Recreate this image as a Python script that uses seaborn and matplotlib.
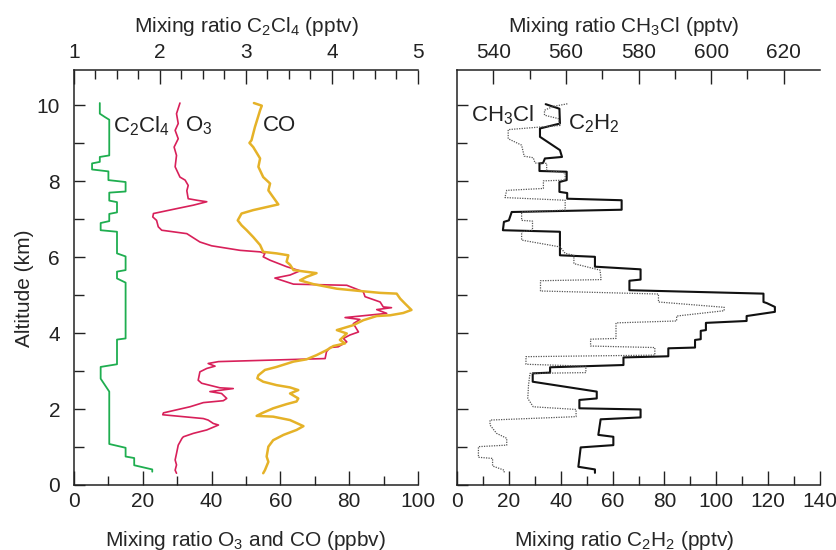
import matplotlib
matplotlib.use("Agg")
import matplotlib.pyplot as plt
import seaborn as sns
import pandas as pd
from matplotlib.ticker import MultipleLocator

# ---------------- data ----------------
# Left panel: C2Cl4 (pptv, top axis)
c2cl4_val = [1.30, 1.30, 1.36, 1.41, 1.41, 1.30, 1.30, 1.21, 1.21, 1.40, 1.40, 1.60, 1.60, 1.41,
             1.41, 1.50, 1.50, 1.41, 1.41, 1.31, 1.31, 1.50, 1.50, 1.60, 1.60, 1.50, 1.50, 1.60,
             1.60, 1.50, 1.50, 1.31, 1.31, 1.41, 1.41, 1.60, 1.60, 1.70, 1.70, 1.91, 1.91]
c2cl4_alt = [10.06, 9.78, 9.69, 9.62, 8.68, 8.64, 8.51, 8.47, 8.31, 8.26, 8.03, 7.98, 7.73, 7.70,
             7.49, 7.45, 7.18, 7.14, 6.95, 6.90, 6.71, 6.67, 6.10, 6.02, 5.66, 5.62, 5.44, 5.33,
             3.86, 3.83, 3.18, 3.11, 2.80, 2.46, 1.08, 0.98, 0.75, 0.71, 0.52, 0.41, 0.35]

# O3 (ppbv, bottom axis)
o3_val = [30.8, 29.8, 30.3, 29.4, 30.3, 29.1, 29.8, 29.4, 30.8, 32.3, 33.2, 32.8, 33.2, 35.7,
          38.6, 34.7, 29.9, 23.1, 22.9, 24.0, 24.5, 25.5, 32.8, 36.6, 40.0, 48.3, 54.1, 55.5,
          55.0, 57.0, 61.8, 65.7, 62.8, 58.4, 63.8, 79.3, 84.1, 84.6, 89.0, 89.9, 92.3, 88.0,
          90.9, 78.8, 83.1, 81.2, 82.7, 80.2, 78.3, 79.3, 76.8, 74.4, 73.4, 73.0, 42.0, 39.0,
          41.0, 38.6, 36.6, 36.1, 37.1, 42.4, 46.3, 39.5, 42.9, 44.4, 43.4, 37.6, 33.7, 30.8,
          26.0, 25.8, 37.6, 39.0, 40.5, 42.0, 38.6, 34.7, 31.8, 31.4, 30.3, 29.8, 29.4, 29.8,
          29.4, 29.8]
o3_alt = [10.06, 9.78, 9.52, 9.34, 9.12, 8.90, 8.68, 8.38, 8.11, 8.03, 7.89, 7.75, 7.54, 7.50,
          7.46, 7.37, 7.28, 7.15, 7.06, 6.97, 6.80, 6.71, 6.62, 6.40, 6.30, 6.18, 6.14, 6.10,
          6.01, 5.92, 5.75, 5.64, 5.53, 5.45, 5.29, 5.26, 5.09, 4.96, 4.82, 4.69, 4.67, 4.62,
          4.52, 4.41, 4.36, 4.25, 4.03, 3.95, 3.86, 3.77, 3.64, 3.62, 3.51, 3.33, 3.25, 3.20,
          3.13, 3.07, 2.98, 2.76, 2.68, 2.56, 2.54, 2.46, 2.41, 2.28, 2.22, 2.17, 2.06, 2.00,
          1.90, 1.85, 1.75, 1.71, 1.62, 1.58, 1.45, 1.36, 1.27, 1.23, 1.05, 0.83, 0.66, 0.53,
          0.39, 0.31]

# CO (ppbv, bottom axis)
co_val = [52.3, 54.6, 54.1, 52.6, 51.6, 51.0, 52.1, 54.1, 53.6, 55.0, 57.0, 56.5, 57.5, 59.4,
          56.0, 52.1, 48.7, 47.6, 48.7, 50.2, 52.1, 54.1, 55.0, 58.9, 62.3, 61.8, 62.8, 63.8,
          70.5, 67.6, 65.7, 69.6, 76.4, 83.1, 89.0, 93.8, 94.8, 96.2, 98.1, 95.7, 91.9, 88.0,
          84.1, 81.2, 76.4, 79.3, 77.3, 78.8, 75.4, 73.4, 70.5, 67.6, 63.8, 58.9, 55.5, 53.6,
          53.3, 55.0, 58.9, 62.8, 65.2, 62.8, 65.2, 64.7, 61.8, 57.9, 54.6, 53.1, 57.9, 62.8,
          66.7, 64.7, 60.9, 57.9, 56.5, 56.0, 56.5, 55.5, 55.0]
co_alt = [10.06, 9.99, 9.87, 9.43, 9.08, 9.01, 8.90, 8.60, 8.38, 8.11, 7.94, 7.76, 7.63, 7.39,
          7.32, 7.24, 7.15, 6.97, 6.84, 6.71, 6.53, 6.32, 6.14, 6.10, 6.05, 5.88, 5.80, 5.66,
          5.58, 5.48, 5.39, 5.29, 5.17, 5.11, 5.06, 5.04, 4.91, 4.78, 4.61, 4.53, 4.47, 4.45,
          4.34, 4.21, 4.08, 3.99, 3.82, 3.73, 3.66, 3.55, 3.42, 3.31, 3.25, 3.11, 3.03, 2.89,
          2.81, 2.72, 2.63, 2.57, 2.50, 2.41, 2.28, 2.20, 2.13, 2.02, 1.89, 1.82, 1.80, 1.71,
          1.55, 1.45, 1.32, 1.18, 1.01, 0.75, 0.61, 0.39, 0.31]

# Right panel: C2H2 (pptv, bottom axis, solid)
c2h2_val = [34.2, 39.5, 39.7, 32.0, 32.0, 39.7, 40.5, 33.9, 33.2, 31.8, 31.8, 42.3, 42.3, 39.5,
            39.5, 42.5, 42.5, 63.5, 63.5, 21.1, 20.0, 18.1, 17.7, 39.7, 39.7, 53.2, 53.2, 70.8,
            70.8, 66.5, 66.5, 118.2, 118.2, 119.5, 122.6, 122.6, 111.7, 111.7, 96.0, 96.0, 94.0,
            94.0, 91.8, 91.8, 81.5, 81.5, 64.2, 64.2, 35.9, 35.9, 29.2, 29.2, 53.9, 53.9, 47.2,
            47.2, 70.8, 70.8, 55.4, 54.5, 60.3, 60.3, 47.7, 46.8, 53.2, 53.2]
c2h2_alt = [10.03, 9.91, 9.52, 9.39, 9.17, 8.82, 8.64, 8.60, 8.48, 8.47, 8.27, 8.25, 8.03, 7.98,
            7.72, 7.69, 7.54, 7.50, 7.25, 7.19, 6.97, 6.93, 6.71, 6.67, 6.05, 6.01, 5.75, 5.68,
            5.41, 5.38, 5.13, 5.04, 4.82, 4.79, 4.69, 4.56, 4.45, 4.32, 4.27, 4.08, 4.06, 3.84,
            3.82, 3.62, 3.60, 3.39, 3.36, 3.16, 3.10, 2.96, 2.94, 2.72, 2.46, 2.28, 2.24, 2.02,
            1.99, 1.78, 1.73, 1.32, 1.27, 1.05, 0.99, 0.48, 0.41, 0.32]

# CH3Cl (pptv, top axis, dotted)
ch3cl_val = [560.4, 556.5, 554.1, 554.1, 557.9, 558.4, 544.1, 544.1, 547.8, 548.5, 551.0, 551.5,
             554.7, 554.7, 559.8, 559.8, 553.8, 553.8, 543.7, 543.2, 559.8, 559.8, 547.8, 547.8,
             550.8, 550.8, 547.8, 547.8, 558.4, 559.8, 562.2, 562.2, 569.4, 569.7, 553.0, 553.0,
             585.5, 585.5, 603.6, 603.6, 590.5, 590.5, 573.8, 573.8, 566.8, 566.8, 584.5, 584.5,
             549.0, 549.0, 565.5, 565.5, 550.1, 549.7, 549.5, 551.0, 562.8, 562.8, 539.1, 539.1,
             540.9, 543.7, 543.7, 535.9, 535.9, 539.8, 539.8, 543.0, 543.0]
ch3cl_alt = [10.04, 9.97, 9.87, 9.74, 9.65, 9.47, 9.36, 9.12, 8.95, 8.66, 8.62, 8.48,
             8.47, 8.29, 8.22, 8.03, 8.01, 7.81, 7.76, 7.57, 7.50, 7.24, 7.19, 6.97,
             6.95, 6.71, 6.67, 6.45, 6.27, 6.10, 6.05, 5.83, 5.66, 5.41, 5.38, 5.11,
             5.03, 4.82, 4.68, 4.59, 4.45, 4.32, 4.27, 3.86, 3.84, 3.66, 3.62, 3.42,
             3.38, 3.18, 3.13, 2.96, 2.94, 2.63, 2.28, 2.06, 1.99, 1.80, 1.71, 1.58,
             1.36, 1.23, 1.05, 1.01, 0.73, 0.70, 0.50, 0.39, 0.31]

# labels
left_bottom_label = "Mixing ratio O$_3$ and CO (ppbv)"
left_top_label = "Mixing ratio C$_2$Cl$_4$ (pptv)"
right_bottom_label = "Mixing ratio C$_2$H$_2$ (pptv)"
right_top_label = "Mixing ratio CH$_3$Cl (pptv)"
y_label = "Altitude (km)"

# ---------------- style ----------------
sns.set_theme(style="ticks")
plt.rcParams['font.family'] = ['Liberation Sans', 'DejaVu Sans']
plt.rcParams['mathtext.default'] = 'regular'
plt.rcParams['axes.linewidth'] = 1.1
plt.rcParams['axes.edgecolor'] = '#222222'

GREEN = '#1fae50'
RED = '#d8205a'
YELLOW = '#e5b228'
FS = 15

fig = plt.figure(figsize=(8.36, 5.5), dpi=100)
W, H = 836, 550
ax1 = fig.add_axes([74 / W, 1 - 485 / H, 344 / W, 415 / H])
ax2 = fig.add_axes([457 / W, 1 - 485 / H, 363 / W, 415 / H])
ax1t = ax1.twiny()
ax2t = ax2.twiny()

YMAX = 10.93

def line(ax, xs, ys, **kw):
    df = pd.DataFrame({"x": xs, "y": ys})
    sns.lineplot(data=df, x="x", y="y", sort=False, estimator=None, ax=ax, **kw)

line(ax1, o3_val, o3_alt, color=RED, lw=1.2)
line(ax1, co_val, co_alt, color=YELLOW, lw=1.8)
line(ax1t, c2cl4_val, c2cl4_alt, color=GREEN, lw=1.3)
line(ax2, c2h2_val, c2h2_alt, color='#111111', lw=1.5)
line(ax2t, ch3cl_val, ch3cl_alt, color='#555555', lw=0.9, linestyle=(0, (1, 1)))

for ax in (ax1, ax2, ax1t, ax2t):
    ax.set_ylim(0, YMAX)
    ax.set_ylabel("")
    ax.set_xlabel("")
    ax.spines['right'].set_visible(False)

ax1.set_xlim(0, 100)
ax1t.set_xlim(1, 5)
ax2.set_xlim(0, 140)
ax2t.set_xlim(530, 630)

for ax in (ax1, ax2):
    ax.spines['top'].set_visible(False)
ax1t.spines['bottom'].set_visible(False)
ax2t.spines['bottom'].set_visible(False)
ax1t.spines['left'].set_visible(False)
ax2t.spines['left'].set_visible(False)

ax1.xaxis.set_major_locator(MultipleLocator(20))
ax1.xaxis.set_minor_locator(MultipleLocator(10))
ax2.xaxis.set_major_locator(MultipleLocator(20))
ax2.xaxis.set_minor_locator(MultipleLocator(10))
ax1t.xaxis.set_major_locator(MultipleLocator(1))
ax1t.xaxis.set_minor_locator(MultipleLocator(0.25))
ax2t.set_xticks([540, 560, 580, 600, 620])
ax2t.set_xticks([550, 570, 590, 610], minor=True)
for ax in (ax1, ax2):
    ax.yaxis.set_major_locator(MultipleLocator(2))
    ax.yaxis.set_minor_locator(MultipleLocator(1))

for ax in (ax1, ax2, ax1t, ax2t):
    ax.tick_params(which='major', direction='in', length=10, width=1.0, labelsize=FS,
                   colors='#222222')
    ax.tick_params(which='minor', direction='in', length=6.5, width=1.0, colors='#222222')
    ax.tick_params(axis='x', which='major', pad=5)
for ax in (ax1t, ax2t):
    ax.tick_params(axis='x', which='major', pad=6)
for ax in (ax1, ax2):
    ax.tick_params(axis='y', which='major', length=8, pad=10)
    ax.tick_params(axis='y', which='minor', length=7)
ax2.tick_params(axis='y', labelleft=False)
ax1t.tick_params(axis='y', left=False, labelleft=False)
ax2t.tick_params(axis='y', left=False, labelleft=False)

ax1.set_xlabel(left_bottom_label, fontsize=FS)
ax2.set_xlabel(right_bottom_label, fontsize=FS)
ax1t.set_xlabel(left_top_label, fontsize=FS)
ax2t.set_xlabel(right_top_label, fontsize=FS)
ax1.set_ylabel(y_label, fontsize=FS)
ax1.xaxis.set_label_coords(0.5, -0.105)
ax2.xaxis.set_label_coords(0.46, -0.105)
ax1t.xaxis.set_label_coords(0.5, 1.092)
ax2t.xaxis.set_label_coords(0.46, 1.092)
ax1.yaxis.set_label_coords(-0.115, 0.473)

# in-panel labels
TFS = 16
ax1.text(11.3, 9.45, "C$_2$Cl$_4$", fontsize=TFS, va='center', ha='left', color='#222222')
ax1.text(32.3, 9.45, "O$_3$", fontsize=TFS, va='center', ha='left', color='#222222')
ax1.text(55.0, 9.48, "CO", fontsize=TFS, va='center', ha='left', color='#222222')
ax2.text(5.5, 9.74, "CH$_3$Cl", fontsize=TFS, va='center', ha='left', color='#222222')
ax2.text(42.8, 9.52, "C$_2$H$_2$", fontsize=TFS, va='center', ha='left', color='#222222')

fig.savefig("out.png", dpi=100)
